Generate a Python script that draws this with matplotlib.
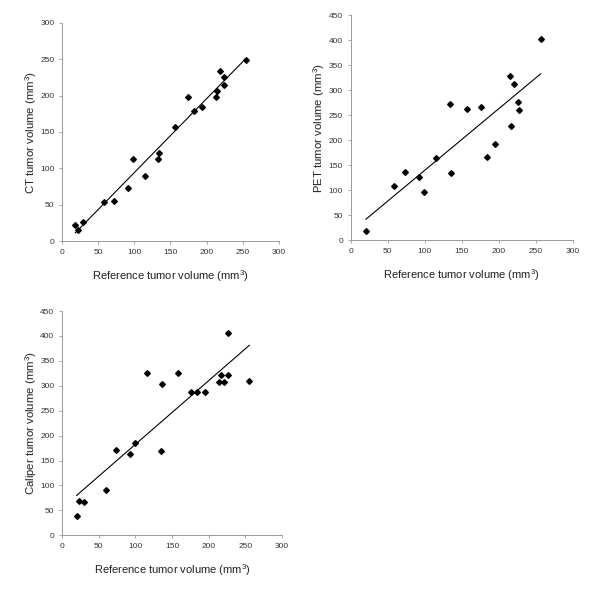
import matplotlib
matplotlib.use('Agg')
import matplotlib.pyplot as plt
import numpy as np

plt.rcParams['font.family'] = ['Liberation Sans', 'DejaVu Sans']
plt.rcParams['mathtext.fontset'] = 'custom'
plt.rcParams['mathtext.rm'] = 'Liberation Sans'

# CT vs reference
ct_ref = [18.4, 21.7, 28.6, 58.5, 72.4, 91.7, 97.7, 115.2, 133.2, 134.6,
          155.8, 173.8, 182.5, 193.1, 212.9, 214.7, 218.4, 224.4, 224.4, 254.0]
ct_vol = [22.0, 15.1, 25.7, 54.0, 55.0, 72.4, 113.0, 88.9, 112.2, 120.5,
          156.7, 198.3, 179.0, 184.1, 197.9, 207.0, 233.6, 225.4, 214.8, 248.7]

# PET vs reference
pet_ref = [20.8, 58.4, 73.3, 91.9, 99.1, 115.8, 134.4, 135.3, 156.4, 175.4,
           184.5, 195.4, 214.8, 216.6, 220.7, 226.0, 227.0, 256.4]
pet_vol = [18.7, 107.3, 136.7, 126.0, 95.3, 163.3, 272.7, 134.7, 262.7, 266.0,
           165.3, 192.0, 327.3, 228.0, 311.3, 276.0, 260.0, 401.3]

# Caliper vs reference
cal_ref = [20.0, 23.2, 29.5, 60.5, 74.1, 93.2, 99.5, 116.4, 136.4, 135.5,
           158.2, 175.5, 184.5, 195.0, 214.5, 216.8, 220.5, 226.4, 226.4, 255.4]
cal_vol = [39.6, 68.4, 67.1, 90.5, 171.0, 163.0, 184.4, 326.0, 303.8, 169.7,
           326.0, 288.3, 288.3, 288.3, 308.5, 321.2, 308.5, 321.2, 406.4, 309.8]

x_ticks = [0, 50, 100, 150, 200, 250, 300]
ct_ticks = [0, 50, 100, 150, 200, 250, 300]
big_ticks = [0, 50, 100, 150, 200, 250, 300, 350, 400, 450]

fig = plt.figure(figsize=(6.0, 5.91), dpi=100)


def panel(rect, xs, ys, yticks, ylabel):
    ax = fig.add_axes(rect)
    xs = np.array(xs)
    ys = np.array(ys)
    # least squares trendline over the data range
    k, b = np.polyfit(xs, ys, 1)
    xl = np.array([xs.min(), xs.max()])
    ax.plot(xl, k * xl + b, color='black', lw=0.8)
    ax.plot(xs, ys, linestyle='none', marker='D', markersize=2.9,
            color='black')
    ax.set_xlim(0, 300)
    ax.set_ylim(0, yticks[-1])
    ax.set_xticks(x_ticks)
    ax.set_yticks(yticks)
    for s in ['top', 'right']:
        ax.spines[s].set_visible(False)
    for s in ['left', 'bottom']:
        ax.spines[s].set_color('#999999')
        ax.spines[s].set_linewidth(0.7)
    ax.tick_params(labelsize=6, colors='#999999', labelcolor='#333333',
                   length=2.5, width=0.6, pad=3)
    ax.set_xlabel('Reference tumor volume (mm$^3$)', fontsize=8,
                  color='#222222', labelpad=9)
    ax.set_ylabel(ylabel, fontsize=8.2, color='#222222', labelpad=1)
    return ax


panel([0.1033, 0.5922, 0.3617, 0.3689], ct_ref, ct_vol, ct_ticks,
      'CT tumor volume (mm$^3$)')
panel([0.5842, 0.5939, 0.3708, 0.3807], pet_ref, pet_vol, big_ticks,
      'PET tumor volume (mm$^3$)')
panel([0.1033, 0.0942, 0.3667, 0.3795], cal_ref, cal_vol, big_ticks,
      'Caliper tumor volume (mm$^3$)')

fig.savefig('out.png', dpi=100)
